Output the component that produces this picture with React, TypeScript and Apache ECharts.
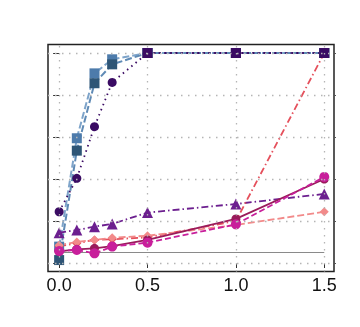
import React, { useEffect, useRef } from "react";
import * as echarts from "echarts";

const xValues = [0, 0.1, 0.2, 0.3, 0.5, 1.0, 1.5];
const xTicks = [0, 0.5, 1.0, 1.5];
const yTicks = [0, 0.2, 0.4, 0.6, 0.8, 1.0];

const blueLight = [0.078, 0.594, 0.903, 0.97, 1.0, 1.0, 1.0];
const blueDark = [0.014, 0.535, 0.856, 0.946, 1.0, 1.0, 1.0];
const indigoCircles = [0.244, 0.403, 0.649, 0.86, 1.0, 1.0, 1.0];
const indigoSquares = [null, null, null, null, 1.0, 1.0, 1.0];
const purpleTriangles = [0.144, 0.157, 0.173, 0.186, 0.24, 0.281, 0.329];
const coralDiamonds = [0.08, 0.094, 0.11, 0.113, 0.122, 0.2, 1.0];
const salmonDiamonds = [0.085, 0.1, 0.11, 0.12, 0.13, 0.181, 0.244];
const crimsonCircles = [0.055, 0.065, 0.07, 0.08, 0.11, 0.21, 0.4];
const magentaCircles = [0.057, 0.062, 0.046, 0.078, 0.097, 0.184, 0.41];
const refLevel = 0.05;
const refRange = [0, 1.5];

const pairs = (arr: (number | null)[]) =>
  xValues.map((x, i) => [x, arr[i]]).filter((p) => p[1] !== null);

export default function App() {
  const ref = useRef<HTMLDivElement>(null);
  useEffect(() => {
    const chart = echarts.init(ref.current!, null, { renderer: "svg" });
    const mk = (
      name: string,
      data: (number | null)[],
      color: string,
      lineColor: string,
      lineType: any,
      symbol: string,
      size: number,
      width = 1.8
    ) => ({
      name,
      type: "line",
      data: pairs(data),
      symbol,
      symbolSize: size,
      z: 3,
      itemStyle: { color, borderWidth: 0 },
      lineStyle: { color: lineColor, type: lineType, width },
      emphasis: { disabled: true },
    });
    const gridStyle = { color: "#b5b5b5", type: [1.5, 5.5], width: 1.3 };
    chart.setOption({
      animation: false,
      grid: {
        left: 48,
        right: 26,
        top: 44.6,
        bottom: 55.6,
        show: true,
        borderColor: "#222",
        borderWidth: 1.5,
        backgroundColor: "transparent",
      },
      xAxis: {
        type: "value",
        min: -0.063,
        max: 1.555,
        axisLine: { show: false },
        splitLine: { show: false },
        axisTick: {
          show: true,
          length: 5,
          customValues: xTicks,
          lineStyle: { color: "#333", width: 1 },
        },
        axisLabel: {
          customValues: xTicks,
          formatter: (v: number) => v.toFixed(1),
          fontSize: 18,
          fontFamily: "Liberation Sans, Arial, sans-serif",
          color: "#111",
          margin: 5,
        },
      },
      yAxis: [
        {
          type: "value",
          min: -0.04,
          max: 1.04,
          axisLine: { show: false },
          splitLine: { show: false },
          axisTick: {
            show: true,
            length: 6,
            customValues: yTicks,
            lineStyle: { color: "#333", width: 1 },
          },
          axisLabel: { show: false, customValues: yTicks },
        },
        {
          type: "value",
          position: "right",
          min: -0.04,
          max: 1.04,
          axisLine: { show: false },
          splitLine: { show: false },
          axisTick: {
            show: true,
            length: 2,
            customValues: yTicks,
            lineStyle: { color: "#555", width: 1 },
          },
          axisLabel: { show: false, customValues: yTicks },
        },
      ],
      series: [
        {
          type: "line",
          data: refRange.map((x) => [x, refLevel]),
          symbol: "none",
          z: 1,
          lineStyle: { color: "#8a8a8a", width: 1 },
          emphasis: { disabled: true },
          markLine: {
            silent: true,
            symbol: "none",
            label: { show: false },
            lineStyle: gridStyle,
            emphasis: { disabled: true },
            data: [
              ...xTicks.map((v) => ({ xAxis: v })),
              ...yTicks.map((v) => ({ yAxis: v })),
            ],
          },
        },
        mk("blueLight", blueLight, "#4d7bab", "#7ea4ca", [7, 3], "rect", 10, 2),
        mk("blueDark", blueDark, "#2e5576", "#5f8ab5", [7, 3], "rect", 10, 2),
        mk("indigoC", indigoCircles, "#3a0b63", "#3a0b63", [1.5, 4], "circle", 9, 1.8),
        mk("purpleT", purpleTriangles, "#6c1f8f", "#6c1f8f", [7, 3, 1.5, 3], "triangle", 11, 1.8),
        mk("coralD", coralDiamonds, "#e5505c", "#e5505c", [7, 3, 1.5, 3], "diamond", 9, 1.8),
        mk("salmonD", salmonDiamonds, "#f28a8a", "#f28a8a", [7, 3], "diamond", 9, 1.8),
        mk("crimsonC", crimsonCircles, "#9a1b5b", "#9a1b5b", "solid", "circle", 9, 1.8),
        mk("magentaC", magentaCircles, "#c81f9b", "#c81f9b", [6, 3], "circle", 10, 1.8),
        mk("indigoS", indigoSquares, "#3a0b63", "#3a0b63", [1.5, 4], "rect", 10, 1.5),
      ],
    });
    return () => chart.dispose();
  }, []);
  return (
    <div
      ref={ref}
      style={{ position: "fixed", left: 0, top: 0, width: 360, height: 327 }}
    />
  );
}
